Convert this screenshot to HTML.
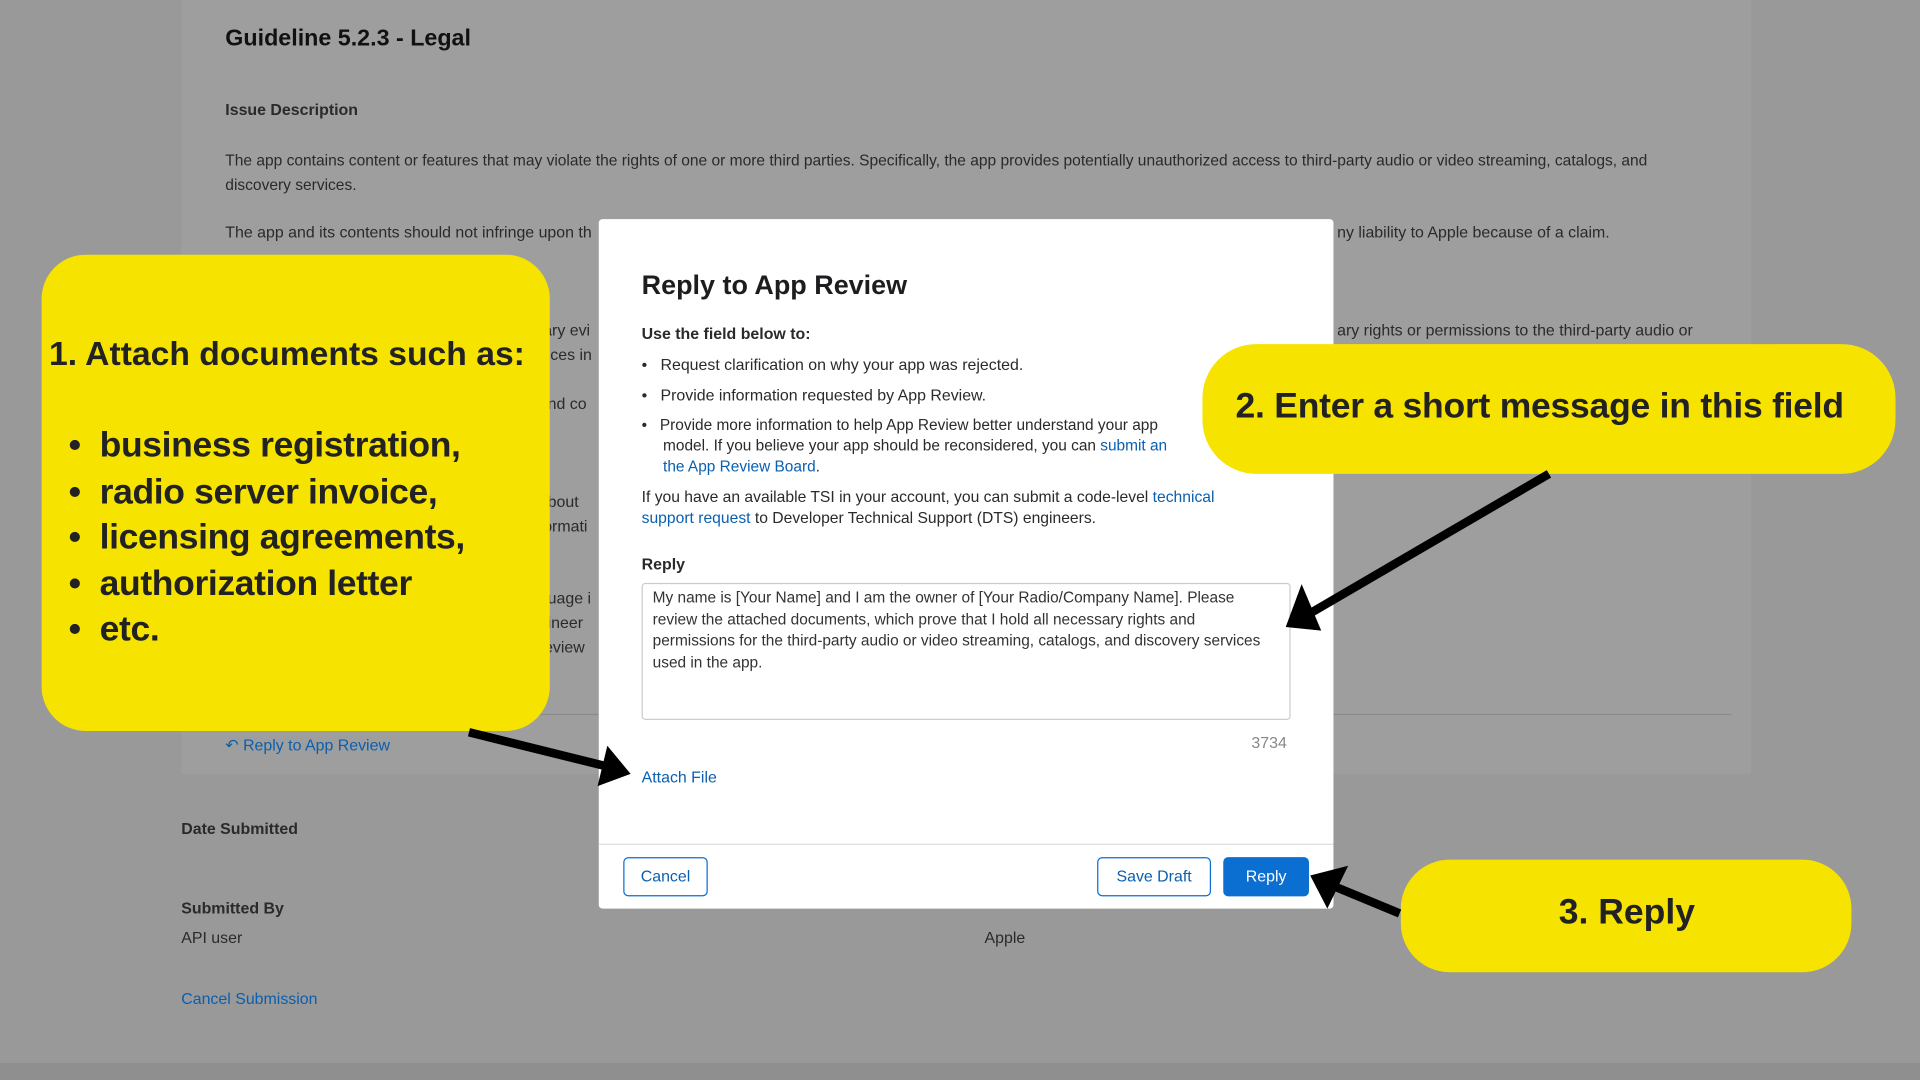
<!DOCTYPE html>
<html><head><meta charset="utf-8"><style>
html,body{margin:0;padding:0;width:1920px;height:1080px;overflow:hidden;background:#999;}
#w{position:absolute;left:0;top:0;width:1568px;height:882px;transform:scale(1.22449);transform-origin:0 0;font-family:"Liberation Sans",sans-serif;background:#999;}
.a{position:absolute;white-space:nowrap;}
.t{font-size:13px;color:#2a2a2a;}
.bl{color:#0a5fb0;}
.y{position:absolute;background:#f7e300;font-weight:bold;color:#222;}
</style></head><body><div id="w">
<div class="a" style="left:148px;top:0;width:1282px;height:632px;background:#9e9e9e"></div>
<div class="a" style="left:0;top:868px;width:1568px;height:14px;background:#8f8f8f"></div>
<div class="a" style="left:184px;top:21px;font-size:19px;font-weight:bold;color:#111">Guideline 5.2.3 - Legal</div>
<div class="a t" style="left:184px;top:82px;font-weight:bold">Issue Description</div>
<div class="a t" style="left:184px;top:121px;line-height:20px;font-size:12.7px">The app contains content or features that may violate the rights of one or more third parties. Specifically, the app provides potentially unauthorized access to third-party audio or video streaming, catalogs, and<br>discovery services.</div>
<div class="a t" style="left:184px;top:182px">The app and its contents should not infringe upon th</div>
<div class="a t" style="left:1092px;top:182px">ny liability to Apple because of a claim.</div>
<div class="a t" style="left:1092px;top:262px">ary rights or permissions to the third-party audio or</div>
<div class="a t" style="left:440px;top:262px">tary evi</div><div class="a t" style="left:440px;top:282px">vices in</div>
<div class="a t" style="left:440px;top:322px">and co</div>
<div class="a t" style="left:440px;top:402px">about</div><div class="a t" style="left:440px;top:422px">formati</div>
<div class="a t" style="left:440px;top:481px">guage i</div><div class="a t" style="left:440px;top:501px">gineer</div><div class="a t" style="left:440px;top:521px">review</div>
<div class="a" style="left:184px;top:583px;width:1230px;height:1px;background:#8a8a8a"></div>
<div class="a t bl" style="left:184px;top:601px">↶ Reply to App Review</div>
<div class="a t" style="left:148px;top:669px;font-weight:bold">Date Submitted</div>
<div class="a t" style="left:148px;top:734px;font-weight:bold">Submitted By</div>
<div class="a t" style="left:148px;top:758px">API user</div>
<div class="a t" style="left:804px;top:758px">Apple</div>
<div class="a t bl" style="left:148px;top:808px">Cancel Submission</div>
<div class="a" style="left:489px;top:179px;width:600px;height:563px;background:#fff;border-radius:3px">
<div class="a" style="left:35px;top:41px;font-size:22px;font-weight:bold;color:#1d1d1f">Reply to App Review</div>
<div class="a t" style="left:35px;top:86px;font-weight:bold">Use the field below to:</div>
<div class="a t" style="left:35px;top:111px">•&nbsp;&nbsp; Request clarification on why your app was rejected.</div>
<div class="a t" style="left:35px;top:136px">•&nbsp;&nbsp; Provide information requested by App Review.</div>
<div class="a t" style="left:35px;top:160px;line-height:17px;font-size:12.6px">•&nbsp;&nbsp; Provide more information to help App Review better understand your app<br>&nbsp;&nbsp;&nbsp;&nbsp; model. If you believe your app should be reconsidered, you can <span class="bl">submit an</span><br>&nbsp;&nbsp;&nbsp;&nbsp; <span class="bl">the App Review Board</span>.</div>
<div class="a t" style="left:35px;top:218px;line-height:17px;font-size:12.8px">If you have an available TSI in your account, you can submit a code-level <span class="bl">technical</span><br><span class="bl">support request</span> to Developer Technical Support (DTS) engineers.</div>
<div class="a t" style="left:35px;top:274px;font-weight:bold">Reply</div>
<div class="a t" style="left:35px;top:297px;width:512px;height:104px;border:1px solid #ccc;border-radius:3px;padding:3px 8px;white-space:normal;line-height:17.5px;color:#333;font-size:12.6px">My name is [Your Name] and I am the owner of [Your Radio/Company Name]. Please review the attached documents, which prove that I hold all necessary rights and permissions for the third-party audio or video streaming, catalogs, and discovery services used in the app.</div>
<div class="a t" style="left:533px;top:420px;color:#888">3734</div>
<div class="a t bl" style="left:35px;top:448px">Attach File</div>
<div class="a" style="left:0;top:510px;width:600px;height:1px;background:#ddd"></div>
<div class="a t bl" style="left:20px;top:521px;width:67px;height:30px;border:1px solid #0a6fd0;border-radius:4px;text-align:center;line-height:30px">Cancel</div>
<div class="a t bl" style="left:407px;top:521px;width:91px;height:30px;border:1px solid #0a6fd0;border-radius:4px;text-align:center;line-height:30px">Save Draft</div>
<div class="a t" style="left:510px;top:521px;width:70px;height:32px;background:#0a6fd0;color:#fff;border-radius:4px;text-align:center;line-height:32px">Reply</div>
</div>
<div class="y" style="left:34px;top:208px;width:415px;height:389px;border-radius:36px">
<div class="a" style="left:6px;top:65px;font-size:27.5px">1. Attach documents such as:</div>
<div class="a" style="left:22px;top:138px;font-size:29px;line-height:37.5px;letter-spacing:-0.3px">•&nbsp; business registration,<br>•&nbsp; radio server invoice,<br>•&nbsp; licensing agreements,<br>•&nbsp; authorization letter<br>•&nbsp; etc.</div>
</div>
<div class="y" style="left:982px;top:281px;width:566px;height:106px;border-radius:44px">
<div class="a" style="left:27px;top:35px;font-size:29px;letter-spacing:-0.2px">2. Enter a short message in this field</div></div>
<div class="y" style="left:1144px;top:702px;width:368px;height:92px;border-radius:40px">
<div class="a" style="left:129px;top:27px;font-size:29px">3. Reply</div></div>
<svg class="a" style="left:0;top:0" width="1568" height="882">
<g stroke="#000" stroke-width="7" fill="#000">
<line x1="383" y1="598" x2="500" y2="627"/>
<line x1="1265" y1="387" x2="1068" y2="502"/>
<line x1="1143" y1="746" x2="1090" y2="724"/>
</g>
<polygon points="515,632 488,642 496,609" fill="#000"/>
<polygon points="1050,512 1063,477 1079,515" fill="#000"/>
<polygon points="1070,715 1101,707 1084,742" fill="#000"/>
</svg>
</div></body></html>
